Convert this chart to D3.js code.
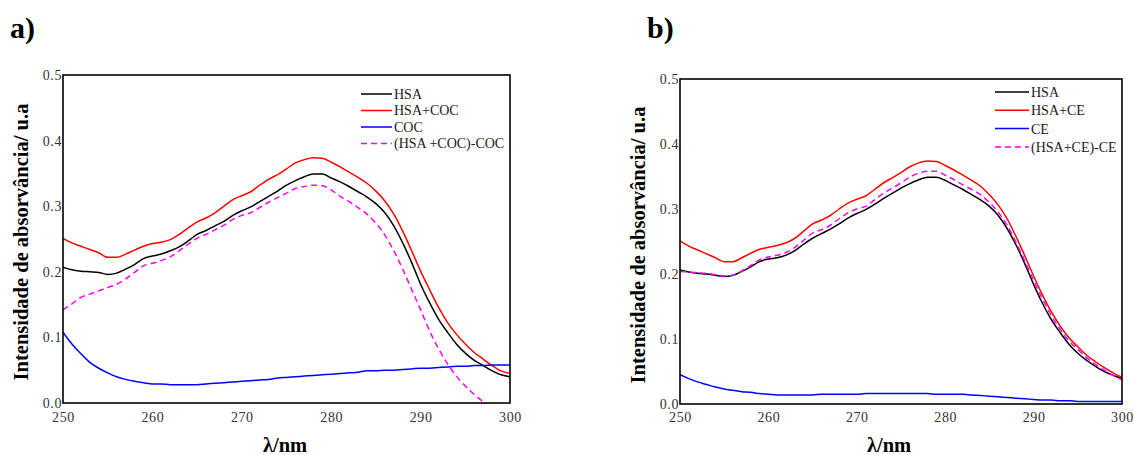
<!DOCTYPE html>
<html><head><meta charset="utf-8">
<script src="https://cdn.jsdelivr.net/npm/d3@7"></script>
<style>
html,body{margin:0;padding:0;background:#fff;}
</style></head>
<body><svg id="chart" width="1134" height="455"></svg>
<script>
// ---- data ----
const wavelengths = d3.range(250, 301, 1);
const yTicks = [0, 0.1, 0.2, 0.3, 0.4, 0.5];
const xTicks = [250, 260, 270, 280, 290, 300];

// Panel a
const aHSA = [.207,.203,.201,.200,.199,.196,.198,.204,.211,.220,.224,.227,.232,.238,.247,.257,.263,.270,.277,.286,.293,.299,.307,.315,.323,.332,.339,.345,.349,.349,.343,.337,.330,.322,.314,.304,.290,.270,.244,.214,.181,.153,.128,.108,.090,.076,.065,.057,.049,.043,.040];
const aHSACOC = [.251,.244,.239,.234,.229,.222,.222,.227,.233,.239,.243,.245,.249,.257,.267,.276,.282,.290,.300,.310,.316,.322,.332,.341,.348,.357,.366,.371,.374,.373,.367,.360,.352,.344,.335,.323,.308,.288,.262,.232,.201,.173,.146,.123,.105,.090,.077,.067,.057,.049,.045];
const aCOC = [.108,.090,.075,.062,.053,.046,.040,.036,.033,.031,.029,.029,.028,.028,.028,.028,.029,.030,.031,.032,.033,.034,.035,.036,.038,.039,.040,.041,.042,.043,.044,.045,.046,.047,.049,.049,.050,.050,.051,.052,.053,.053,.054,.055,.056,.056,.057,.057,.058,.058,.058];
const aDiff = [.142,.151,.161,.166,.171,.176,.181,.189,.199,.209,.213,.217,.223,.232,.242,.251,.257,.264,.271,.280,.286,.290,.298,.306,.313,.320,.327,.330,.332,.331,.325,.315,.307,.298,.288,.274,.256,.232,.204,.173,.142,.110,.083,.060,.041,.026,.013,.002,null,null,null];

// Panel b
const bHSA = [.206,.203,.201,.200,.198,.196,.198,.204,.211,.219,.223,.225,.229,.236,.246,.255,.262,.269,.277,.286,.293,.299,.307,.316,.324,.332,.339,.345,.349,.349,.344,.337,.330,.322,.314,.304,.290,.270,.245,.216,.184,.155,.130,.110,.092,.078,.067,.058,.050,.044,.039];
const bHSACE = [.251,.243,.237,.231,.225,.219,.219,.225,.232,.238,.241,.244,.248,.255,.266,.277,.283,.290,.300,.309,.315,.320,.330,.340,.348,.356,.365,.371,.374,.373,.367,.360,.352,.344,.335,.322,.306,.285,.258,.228,.197,.168,.142,.120,.102,.088,.075,.065,.056,.048,.041];
const bCE = [.045,.039,.034,.030,.026,.023,.021,.019,.018,.016,.015,.014,.014,.014,.014,.014,.015,.015,.015,.015,.015,.016,.016,.016,.016,.016,.016,.016,.016,.015,.015,.015,.015,.014,.013,.012,.011,.010,.009,.008,.007,.006,.006,.005,.005,.004,.004,.004,.004,.004,.004];
const bDiff = [.204,.203,.202,.201,.199,.197,.198,.205,.213,.222,.226,.229,.233,.241,.252,.263,.268,.275,.285,.294,.300,.304,.314,.324,.332,.340,.349,.355,.358,.358,.352,.345,.337,.330,.322,.310,.295,.275,.249,.220,.190,.162,.136,.115,.097,.084,.071,.061,.052,.044,.037];

const seriesA = [
  {name:"HSA", values:aHSA, color:"#000000", dash:null},
  {name:"HSA+COC", values:aHSACOC, color:"#ff0000", dash:null},
  {name:"COC", values:aCOC, color:"#0000ff", dash:null},
  {name:"(HSA +COC)-COC", values:aDiff, color:"#ff00ff", dash:"6,4"}
];
const seriesB = [
  {name:"HSA", values:bHSA, color:"#000000", dash:null},
  {name:"HSA+CE", values:bHSACE, color:"#ff0000", dash:null},
  {name:"CE", values:bCE, color:"#0000ff", dash:null},
  {name:"(HSA+CE)-CE", values:bDiff, color:"#ff00ff", dash:"6,4"}
];

const SERIF = "'Liberation Serif', 'Times New Roman', Times, 'DejaVu Serif', serif";

const svg = d3.select("#chart");
svg.append("rect").attr("width",1134).attr("height",455).attr("fill","#fff");

function panel(cfg){
  const {left,right,top,bottom,series,label,labelX,ytitleX,ytitleY,xtitleX,legX,legY,legDy,legLen,id} = cfg;
  const x = d3.scaleLinear().domain([250,300]).range([left,right]);
  const y = d3.scaleLinear().domain([0,0.5]).range([bottom,top]);
  const g = svg.append("g");

  g.append("clipPath").attr("id",id).append("rect")
    .attr("x",left).attr("y",top).attr("width",right-left).attr("height",bottom-top);

  const yAxis = d3.axisLeft(y).tickValues(yTicks).tickFormat(d3.format(".1f")).tickSize(0).tickPadding(1);
  const xAxis = d3.axisBottom(x).tickValues(xTicks).tickFormat(d3.format("d")).tickSize(0).tickPadding(cfg.xPad);
  const ya = g.append("g").attr("transform",`translate(${left},0)`).call(yAxis);
  const xa = g.append("g").attr("transform",`translate(0,${bottom})`).call(xAxis);
  [ya,xa].forEach(a=>{
    a.attr("font-family",null).attr("font-size",null);
    a.select(".domain").remove();
    a.selectAll("text").style("font-family",SERIF).style("font-size","14px").attr("fill","#333").style("letter-spacing","0.6px");
  });

  const line = d3.line().defined(d=>d[1]!=null).x(d=>x(d[0])).y(d=>y(d[1])).curve(d3.curveMonotoneX);
  series.forEach(s=>{
    g.append("path").datum(wavelengths.map((w,i)=>[w,s.values[i]]))
      .attr("d",line).attr("fill","none").attr("stroke",s.color).attr("stroke-width",1.5)
      .attr("stroke-dasharray",s.dash).attr("clip-path",`url(#${id})`);
  });

  g.append("rect").attr("x",left).attr("y",top).attr("width",right-left).attr("height",bottom-top)
    .attr("fill","none").attr("stroke","#000").attr("stroke-width",1.6);

  series.forEach((s,i)=>{
    const yy = legY + i*legDy;
    g.append("line").attr("x1",legX).attr("x2",legX+legLen).attr("y1",yy).attr("y2",yy)
      .attr("stroke",s.color).attr("stroke-width",1.5).attr("stroke-dasharray",s.dash);
    g.append("text").attr("x",legX+legLen+2).attr("y",yy).attr("dy","0.35em")
      .style("font-family",SERIF).style("font-size","14px").attr("fill","#222").text(s.name);
  });

  g.append("text").attr("transform",`translate(${ytitleX},${ytitleY}) rotate(-90)`)
    .attr("text-anchor","middle").style("font-family",SERIF).style("font-weight","700").style("font-size","20.5px").attr("fill","#000")
    .text("Intensidade de absorvância/ u.a");
  g.append("text").attr("x",xtitleX).attr("y",452).attr("text-anchor","middle")
    .style("font-family",SERIF).style("font-weight","700").style("font-size","20.5px").attr("fill","#000").text("λ/nm");
  g.append("text").attr("x",labelX).attr("y",38).style("font-family",SERIF).style("font-weight","700").style("font-size","30px").attr("fill","#000").text(label);
}

panel({id:"clipA",left:63,right:510,top:75,bottom:403,series:seriesA,label:"a)",labelX:10,
  ytitleX:28,ytitleY:242,xtitleX:285,xPad:9,legX:361,legY:94,legDy:16.5,legLen:31});
panel({id:"clipB",left:680,right:1122,top:79,bottom:404,series:seriesB,label:"b)",labelX:647,
  ytitleX:645,ytitleY:245,xtitleX:889,xPad:8,legX:995,legY:92,legDy:18.3,legLen:34});
</script>
</body></html>
